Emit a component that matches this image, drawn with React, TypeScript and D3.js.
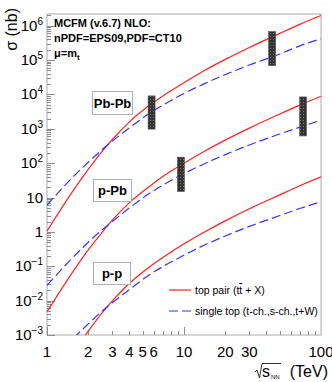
import * as d3 from "d3";
import { useEffect, useRef } from "react";

const energies = [1, 1.5, 2, 2.5, 3, 4, 5.5, 7, 10, 14, 20, 30, 50, 70, 100];

// cross sections in nb
const pbpbTopPair = [1.05, 13, 66, 210, 490, 1600, 4600, 9100, 22000, 49000, 105000, 234000, 600000, 1100000, 2000000];
const pbpbSingleTop = [6.0, 35, 107, 240, 440, 1070, 2700, 4900, 10700, 20400, 38000, 72000, 151000, 260000, 420000];
const ppbTopPair = [0.0047, 0.058, 0.3, 0.93, 2.2, 7.1, 20, 41, 100, 220, 470, 1050, 2700, 4900, 8900];
const ppbSingleTop = [0.028, 0.16, 0.5, 1.12, 2.0, 5.0, 12.6, 23, 50, 95, 178, 340, 710, 1120, 1780];
const ppTopPair = [2.1e-5, 2.6e-4, 1.3e-3, 4.2e-3, 9.8e-3, 3.2e-2, 9.1e-2, 0.18, 0.45, 0.98, 2.1, 4.7, 12, 22, 40];
const ppSingleTop = [1.2e-4, 6.9e-4, 2.1e-3, 4.8e-3, 8.7e-3, 2.1e-2, 5.4e-2, 9.8e-2, 0.21, 0.41, 0.76, 1.45, 3.0, 4.8, 7.6];

// uncertainty boxes
const bandEnergies = [5.8, 9.5, 44, 74];
const bandLow = [980, 15, 69000, 620];
const bandHigh = [9100, 150, 680000, 8500];

const systemLabels = ["Pb-Pb", "p-Pb", "p-p"];
const xTickValues = [1, 2, 3, 4, 5, 6, 10, 20, 30, 100];
const yExponents = [-3, -2, -1, 0, 1, 2, 3, 4, 5, 6];
const headerLines = ["MCFM (v.6.7) NLO:", "nPDF=EPS09,PDF=CT10"];
const legendLabels = ["top pair", "single top (t-ch.,s-ch.,t+W)"];

const W = 332;
const H = 382;

const Chart = () => {
  const ref = useRef<SVGSVGElement | null>(null);

  useEffect(() => {
    if (!ref.current) return;
    const svg = d3.select(ref.current);
    svg.selectAll("*").remove();

    const left = 47;
    const right = 321;
    const top = 14;
    const bottom = 335;
    const font = "'Liberation Sans', Arial, sans-serif";
    const grey = "#8c8c8c";

    const x = d3.scaleLog().domain([1, 100]).range([left, right]);
    const y = d3.scaleLog().domain([1e-3, 2.2e6]).range([bottom, top]);

    svg.append("rect").attr("width", W).attr("height", H).attr("fill", "white");

    const defs = svg.append("defs");
    defs
      .append("clipPath")
      .attr("id", "plot-clip")
      .append("rect")
      .attr("x", left)
      .attr("y", top)
      .attr("width", right - left)
      .attr("height", bottom - top);

    const pat = defs
      .append("pattern")
      .attr("id", "band-hatch")
      .attr("width", 3)
      .attr("height", 3)
      .attr("patternUnits", "userSpaceOnUse");
    pat.append("rect").attr("width", 3).attr("height", 3).attr("fill", "#333");
    pat.append("rect").attr("width", 1).attr("height", 1).attr("fill", "#7a7a7a");

    // --- frame ---
    svg
      .append("rect")
      .attr("x", left)
      .attr("y", top)
      .attr("width", right - left)
      .attr("height", bottom - top)
      .attr("fill", "none")
      .attr("stroke", "#aaa")
      .attr("stroke-width", 1);

    // --- y axis ticks (inside) ---
    const gy = svg.append("g").attr("stroke", grey).attr("stroke-width", 1);
    for (let e = -3; e <= 6; e++) {
      for (let m = 1; m <= 9; m++) {
        const v = m * Math.pow(10, e);
        if (v > 2.2e6) continue;
        const yy = Math.round(y(v)) + 0.5;
        gy.append("line")
          .attr("x1", left)
          .attr("x2", left + (m === 1 ? 8 : 4))
          .attr("y1", yy)
          .attr("y2", yy);
      }
    }

    const yLabels = svg.append("g").attr("font-family", font).attr("fill", "black");
    yExponents.forEach((e) => {
      const yy = y(Math.pow(10, e)) + 5;
      const t = yLabels.append("text").attr("x", 43).attr("y", yy).attr("text-anchor", "end").attr("font-size", 15);
      if (e === 0) t.text("1");
      else if (e === 1) t.text("10");
      else {
        t.append("tspan").text("10");
        t.append("tspan").attr("dy", -6).attr("font-size", 10).text(String(e).replace("-", "\u2212"));
      }
    });

    // --- x axis ticks (inside) ---
    const gx = svg.append("g").attr("stroke", grey).attr("stroke-width", 1);
    [1, 10].forEach((d) => {
      for (let m = 1; m <= 9; m++) {
        const xx = Math.round(x(m * d)) + 0.5;
        gx.append("line")
          .attr("x1", xx)
          .attr("x2", xx)
          .attr("y1", bottom)
          .attr("y2", bottom - (m === 1 ? 8 : 4));
      }
    });

    svg
      .append("g")
      .attr("font-family", font)
      .attr("font-size", 15)
      .selectAll("text")
      .data(xTickValues)
      .join("text")
      .attr("x", (d) => x(d))
      .attr("y", 357)
      .attr("text-anchor", "middle")
      .text((d) => d);

    // x title: sqrt(s_NN) (TeV)
    svg
      .append("path")
      .attr("d", "M255,372 L257,370 L259.5,378 L262,363.5 L281,363.5")
      .attr("fill", "none")
      .attr("stroke", "black")
      .attr("stroke-width", 0.8);
    const xt = svg.append("g").attr("font-family", font).attr("fill", "black");
    xt.append("text").attr("x", 262).attr("y", 377).attr("font-size", 16).text("s");
    xt.append("text").attr("x", 271).attr("y", 379).attr("font-size", 6).text("NN");
    xt.append("text").attr("x", 328).attr("y", 377).attr("font-size", 16).attr("text-anchor", "end").text("(TeV)");

    // y title
    svg
      .append("text")
      .attr("transform", "translate(17,8) rotate(-90)")
      .attr("text-anchor", "end")
      .attr("font-family", font)
      .attr("font-size", 16)
      .text("\u03c3 (nb)");

    // --- curves ---
    const line = d3
      .line<number>()
      .x((_d, i) => x(energies[i]))
      .y((d) => y(d))
      .curve(d3.curveMonotoneX);

    const plot = svg.append("g").attr("clip-path", "url(#plot-clip)");

    const series = [
      { v: pbpbTopPair, dash: false },
      { v: pbpbSingleTop, dash: true },
      { v: ppbTopPair, dash: false },
      { v: ppbSingleTop, dash: true },
      { v: ppTopPair, dash: false },
      { v: ppSingleTop, dash: true },
    ];
    series.forEach((s) => {
      plot
        .append("path")
        .attr("d", line(s.v))
        .attr("fill", "none")
        .attr("stroke", s.dash ? "#3333ff" : "#ff2020")
        .attr("stroke-width", 1.2)
        .attr("stroke-dasharray", s.dash ? "9,4" : null);
    });

    // --- uncertainty boxes ---
    bandEnergies.forEach((e, i) => {
      const cx = x(e);
      plot
        .append("rect")
        .attr("x", cx - 3.5)
        .attr("width", 7)
        .attr("y", y(bandHigh[i]))
        .attr("height", y(bandLow[i]) - y(bandHigh[i]))
        .attr("fill", "url(#band-hatch)")
        .attr("stroke", "#555")
        .attr("stroke-width", 0.6);
    });

    // --- system labels ---
    const boxes = [
      { x: 92, y: 91, w: 40, h: 23 },
      { x: 93, y: 179, w: 38, h: 22 },
      { x: 93, y: 262, w: 37, h: 22 },
    ];
    systemLabels.forEach((lab, i) => {
      const b = boxes[i];
      svg
        .append("rect")
        .attr("x", b.x + 0.5)
        .attr("y", b.y + 0.5)
        .attr("width", b.w)
        .attr("height", b.h)
        .attr("fill", "white")
        .attr("stroke", "#b0b0b0");
      svg
        .append("text")
        .attr("x", b.x + b.w / 2 + 0.5)
        .attr("y", b.y + b.h / 2 + 5)
        .attr("text-anchor", "middle")
        .attr("font-family", font)
        .attr("font-weight", "bold")
        .attr("font-size", 13)
        .text(lab);
    });

    // --- header ---
    const hdr = svg.append("g").attr("font-family", font).attr("font-weight", "bold").attr("font-size", 11);
    headerLines.forEach((t, i) => {
      hdr.append("text").attr("x", 54).attr("y", 27 + i * 15).text(t);
    });
    const mu = hdr.append("text").attr("x", 54).attr("y", 57);
    mu.append("tspan").text("\u03bc=m");
    mu.append("tspan").attr("dy", 3).attr("font-size", 8).text("t");

    // --- legend ---
    const lg = svg.append("g").attr("font-family", font).attr("font-size", 10.5);
    lg.append("line")
      .attr("x1", 169)
      .attr("x2", 191)
      .attr("y1", 290)
      .attr("y2", 290)
      .attr("stroke", "#ff2020")
      .attr("stroke-width", 1.2);
    lg.append("line")
      .attr("x1", 169)
      .attr("x2", 191)
      .attr("y1", 311)
      .attr("y2", 311)
      .attr("stroke", "#3333ff")
      .attr("stroke-width", 1.2)
      .attr("stroke-dasharray", "9,4");
    const t1 = lg.append("text").attr("x", 195).attr("y", 294);
    t1.append("tspan").text(legendLabels[0] + " (t");
    t1.append("tspan").attr("text-decoration", "overline").text("t");
    t1.append("tspan").text(" + X)");
    lg.append("text").attr("x", 195).attr("y", 315).text(legendLabels[1]);
  }, []);

  return <svg ref={ref} width={W} height={H} style={{ position: "absolute", left: 0, top: 0 }} />;
};

export default function App() {
  return <Chart />;
}
